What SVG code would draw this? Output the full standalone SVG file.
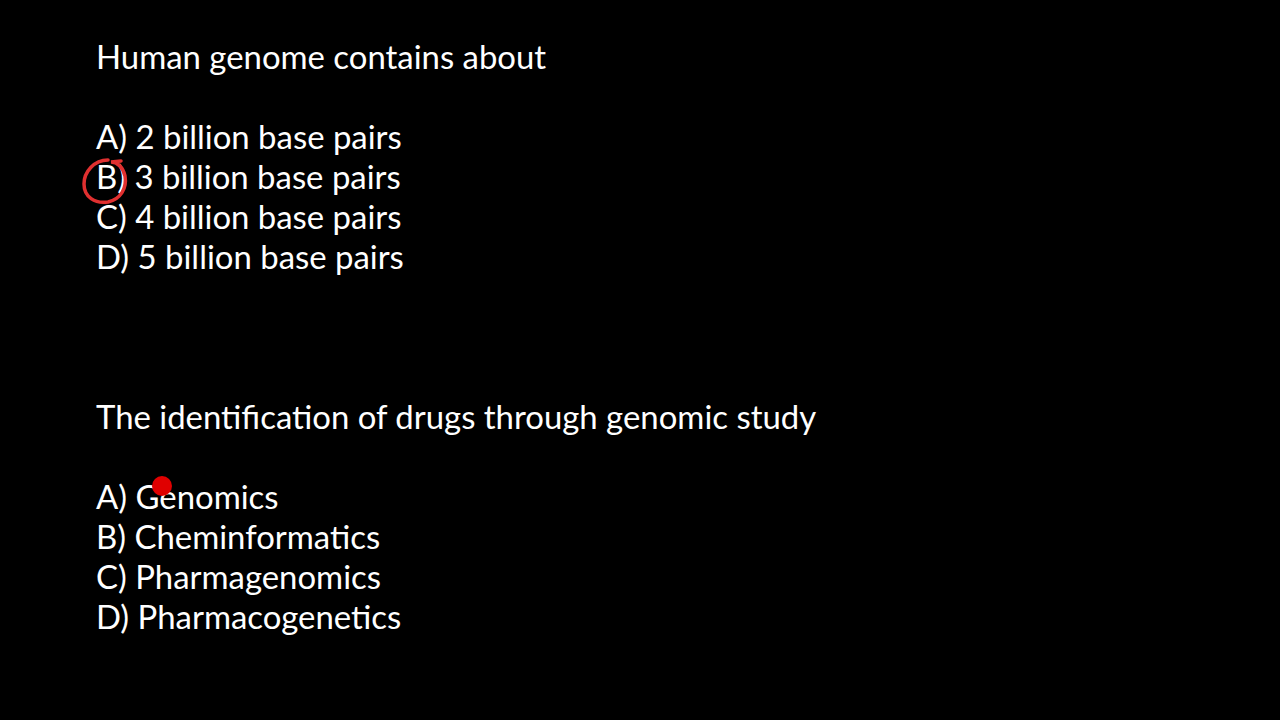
<svg xmlns="http://www.w3.org/2000/svg" width="1280" height="720" viewBox="0 0 1280 720">
<style>text{font-family:Lato,"Open Sans",sans-serif;font-size:32.9px;fill:#fff}</style>
<rect width="1280" height="720" fill="#000"/>
<text x="96" y="69">Human genome contains about</text>
<text x="96" y="149">A) 2 billion base pairs</text>
<text x="96" y="189">B) 3 billion base pairs</text>
<text x="96" y="229">C) 4 billion base pairs</text>
<text x="96" y="269">D) 5 billion base pairs</text>
<text x="96" y="429">The identification of drugs through genomic study</text>
<text x="96" y="509">A) Genomics</text>
<text x="96" y="549">B) Cheminformatics</text>
<text x="96" y="589">C) Pharmagenomics</text>
<text x="96" y="629">D) Pharmacogenetics</text>
<path d="M108,160 C94,160 84,172 84,184 C84,197 95,204 108,202 C121,199 127,188 125,176 C123,167 117,162 111,162 L121,161" fill="none" stroke="#e03030" stroke-width="3.5" stroke-linecap="round"/>
<circle cx="162" cy="486" r="10" fill="#e00000"/>
</svg>
